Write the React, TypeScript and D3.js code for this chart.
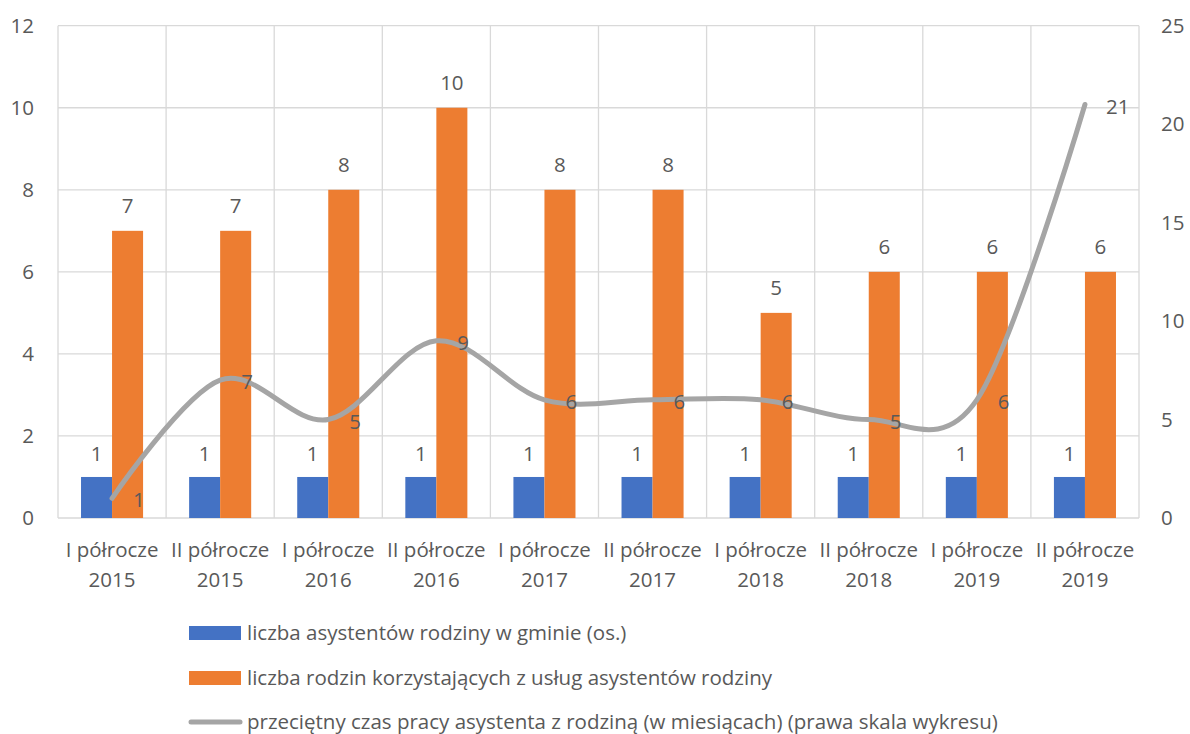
import React, { useEffect } from "react";
import * as d3 from "d3";

const categories: string[][] = [
  ["I półrocze", "2015"], ["II półrocze", "2015"],
  ["I półrocze", "2016"], ["II półrocze", "2016"],
  ["I półrocze", "2017"], ["II półrocze", "2017"],
  ["I półrocze", "2018"], ["II półrocze", "2018"],
  ["I półrocze", "2019"], ["II półrocze", "2019"],
];
const assistants = [1, 1, 1, 1, 1, 1, 1, 1, 1, 1];
const families = [7, 7, 8, 10, 8, 8, 5, 6, 6, 6];
const months = [1, 7, 5, 9, 6, 6, 6, 5, 6, 21];
const leftTicks = [0, 2, 4, 6, 8, 10, 12];
const rightTicks = [0, 5, 10, 15, 20, 25];
const legendLabels = [
  "liczba asystentów rodziny w gminie (os.)",
  "liczba rodzin korzystających z usług asystentów rodziny",
  "przeciętny czas pracy asystenta z rodziną (w miesiącach) (prawa skala wykresu)",
];

const W = 1190, H = 734;
const M = { left: 58, right: 1139, top: 25.7, bottom: 518 };
const BLUE = "#4472C4", ORANGE = "#ED7D31", GRAY = "#A5A5A5", TXT = "#595959", GRID = "#D9D9D9";
const FONT = "'Open Sans', sans-serif";
const FS = 20.5;

export default function App() {
  useEffect(() => { document.body.style.margin = "0"; }, []);
  const x = d3.scaleBand<number>().domain(d3.range(categories.length)).range([M.left, M.right]);
  const yL = d3.scaleLinear().domain([0, 12]).range([M.bottom, M.top]);
  const yR = d3.scaleLinear().domain([0, 25]).range([M.bottom, M.top]);
  const bw = x.bandwidth();
  const barW = bw * 0.287;
  const cx = (i: number) => (x(i) as number) + bw / 2;
  const line = d3.line<number>()
    .x((_, i) => cx(i))
    .y((d) => yR(d))
    .curve(d3.curveCardinal.tension(0));

  return (
    <svg width={W} height={H} style={{ display: "block", background: "#fff" }} fontFamily={FONT}>
      {leftTicks.map((t) => (
        <line key={"h" + t} x1={M.left} x2={M.right} y1={yL(t)} y2={yL(t)} stroke={GRID} strokeWidth={1.3} />
      ))}
      {d3.range(categories.length + 1).map((i) => {
        const xx = i < categories.length ? (x(i) as number) : M.right;
        return <line key={"v" + i} x1={xx} x2={xx} y1={M.top} y2={M.bottom} stroke={GRID} strokeWidth={1.3} />;
      })}
      {leftTicks.map((t) => (
        <text key={"l" + t} x={34} y={yL(t)} dy="0.35em" textAnchor="end" fontSize={FS} fill={TXT}>{t}</text>
      ))}
      {rightTicks.map((t) => (
        <text key={"r" + t} x={1161} y={yR(t)} dy="0.35em" textAnchor="start" fontSize={FS} fill={TXT}>{t}</text>
      ))}
      {assistants.map((v, i) => (
        <g key={"b" + i}>
          <rect x={cx(i) - barW} y={yL(v)} width={barW} height={yL(0) - yL(v)} fill={BLUE} />
          <text x={cx(i) - barW / 2} y={yL(v) - 23} dy="0.35em" textAnchor="middle" fontSize={FS} fill={TXT}>{v}</text>
        </g>
      ))}
      {families.map((v, i) => (
        <g key={"o" + i}>
          <rect x={cx(i)} y={yL(v)} width={barW} height={yL(0) - yL(v)} fill={ORANGE} />
          <text x={cx(i) + barW / 2} y={yL(v) - 25} dy="0.35em" textAnchor="middle" fontSize={FS} fill={TXT}>{v}</text>
        </g>
      ))}
      <path d={line(months) || ""} fill="none" stroke={GRAY} strokeWidth={5} strokeLinecap="round" />
      {months.map((v, i) => (
        <text key={"m" + i} x={cx(i) + 21} y={yR(v) + 2} dy="0.35em" textAnchor="start" fontSize={FS} fill={TXT}>{v}</text>
      ))}
      {categories.map((c, i) => (
        <text key={"c" + i} x={cx(i)} textAnchor="middle" fontSize={FS} fill={TXT}>
          <tspan x={cx(i)} y={557}>{c[0]}</tspan>
          <tspan x={cx(i)} y={587}>{c[1]}</tspan>
        </text>
      ))}
      <rect x={189} y={626} width={52} height={14} fill={BLUE} />
      <text x={247} y={633} dy="0.35em" fontSize={FS} fill={TXT}>{legendLabels[0]}</text>
      <rect x={189} y={671} width={52} height={14} fill={ORANGE} />
      <text x={247} y={678} dy="0.35em" fontSize={FS} fill={TXT}>{legendLabels[1]}</text>
      <line x1={191} x2={240} y1={722} y2={722} stroke={GRAY} strokeWidth={5} strokeLinecap="round" />
      <text x={247} y={722} dy="0.35em" fontSize={FS} fill={TXT}>{legendLabels[2]}</text>
    </svg>
  );
}
